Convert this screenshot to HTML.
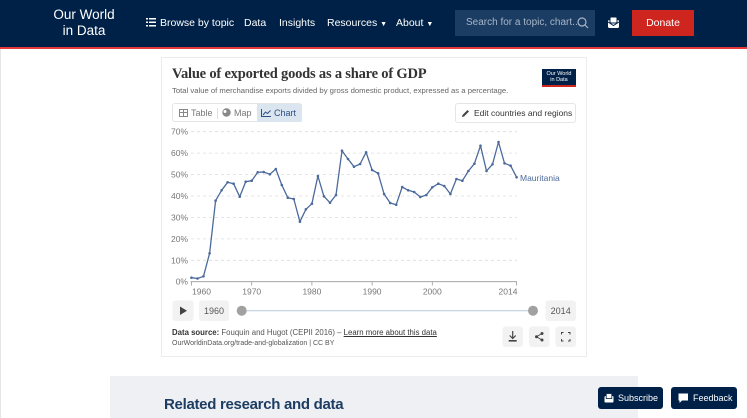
<!DOCTYPE html>
<html><head><meta charset="utf-8"><style>
*{margin:0;padding:0;box-sizing:border-box}
body{width:747px;height:418px;overflow:hidden;background:#fff;font-family:"Liberation Sans",sans-serif;position:relative}
.a{position:absolute}
.hdr{left:0;top:0;width:747px;height:47px;background:#002147}
.red{left:0;top:46.5px;width:747px;height:2.5px;background:#e5393a}
.logo{left:50px;top:7px;width:68px;color:#fff;font-size:13.5px;line-height:16px;text-align:center}
.nav{color:#fff;font-size:10.5px;top:17px;white-space:nowrap}
.search{left:455px;top:10px;width:140px;height:26px;background:#1c3d63;color:#a7b5c8;font-size:10px;line-height:26px;padding-left:11px}
.donate{left:632px;top:10px;width:62px;height:26px;background:#ce261e;color:#fff;font-size:10.5px;line-height:26px;text-align:center}
.card{left:161px;top:57px;width:426px;height:300px;border:1px solid #ececec}
.title{left:172px;top:66px;font-family:"Liberation Serif",serif;font-weight:bold;font-size:14.5px;color:#333;white-space:nowrap;letter-spacing:-0.2px}
.sub{left:172px;top:86px;font-size:7.7px;color:#666;white-space:nowrap}
.olg{left:542px;top:69px;width:34px;height:18px;background:#002147;border-bottom:2px solid #ce261e;color:#fff;font-size:5.5px;line-height:6px;text-align:center;padding-top:2px}
.tabs{left:172px;top:102.5px;width:130px;height:19.5px;border:1px solid #e5e5e5;border-radius:3px;font-size:9px;color:#777}
.tab{position:absolute;top:0;height:18px;line-height:18px}
.edit{left:455px;top:102.5px;width:121px;height:20px;border:1px solid #e5e5e5;border-radius:3px;font-size:8.5px;color:#333;line-height:18px;padding-left:18px;white-space:nowrap}
.src{left:172px;top:328px;font-size:7.8px;color:#555;white-space:nowrap}
.src2{left:172px;top:340px;font-size:7px;color:#555;white-space:nowrap}
.rel{left:110px;top:376px;width:528px;height:42px;background:#eef0f3}
.relt{left:164px;top:396px;font-size:15px;font-weight:bold;color:#1d3d63;white-space:nowrap;letter-spacing:-0.3px}
.nb{background:#002147;color:#fff;font-size:9px;border-radius:3px;line-height:22px;white-space:nowrap}
</style></head><body>
<div class="a" style="left:0;top:0;width:1px;height:418px;background:#e6e6e6"></div>
<div class="a hdr"></div>
<div class="a red"></div>
<div class="a logo">Our World<br>in Data</div>
<div class="a nav" style="left:146px">
<svg width="10" height="9" style="vertical-align:-1px;margin-right:4px"><g fill="#fff"><rect x="0" y="0" width="2" height="1.5"/><rect x="3" y="0" width="7" height="1.5"/><rect x="0" y="3.5" width="2" height="1.5"/><rect x="3" y="3.5" width="7" height="1.5"/><rect x="0" y="7" width="2" height="1.5"/><rect x="3" y="7" width="7" height="1.5"/></g></svg>Browse by topic</div>
<div class="a nav" style="left:244px">Data</div>
<div class="a nav" style="left:279px">Insights</div>
<div class="a nav" style="left:327px">Resources <span style="font-size:7px">▼</span></div>
<div class="a nav" style="left:396px">About <span style="font-size:7px">▼</span></div>
<div class="a search">Search for a topic, chart...
<svg class="a" style="left:122px;top:7px" width="12" height="12"><circle cx="5" cy="5" r="4" fill="none" stroke="#a7b5c8" stroke-width="1.2"/><line x1="8" y1="8" x2="11" y2="11" stroke="#a7b5c8" stroke-width="1.2"/></svg></div>
<svg class="a" style="left:607px;top:16px" width="13" height="13"><rect x="1" y="4" width="11" height="8" rx="1.5" fill="#fff"/><rect x="3" y="1" width="7" height="6" rx="1" fill="#fff" stroke="#002147" stroke-width="1"/><path d="M1 6 L6.5 9.5 L12 6" fill="none" stroke="#002147" stroke-width="1"/></svg>
<div class="a donate">Donate</div>

<div class="a card"></div>
<div class="a title">Value of exported goods as a share of GDP</div>
<div class="a sub">Total value of merchandise exports divided by gross domestic product, expressed as a percentage.</div>
<div class="a olg">Our World<br>in Data</div>
<div class="a tabs">
<div class="tab" style="left:6px"><svg width="9" height="8" style="vertical-align:-1px;margin-right:3px"><rect x="0.5" y="0.5" width="8" height="7" fill="none" stroke="#888"/><line x1="0.5" y1="3.5" x2="8.5" y2="3.5" stroke="#888"/><line x1="4.5" y1="0.5" x2="4.5" y2="7.5" stroke="#888"/></svg>Table</div>
<div class="a" style="left:44px;top:4px;width:1px;height:11px;background:#e0e0e0"></div>
<div class="tab" style="left:49px"><svg width="9" height="9" style="vertical-align:-1px;margin-right:3px"><circle cx="4.5" cy="4.5" r="4.2" fill="#888"/><circle cx="3" cy="3.5" r="1.5" fill="#fff"/></svg>Map</div>
<div class="tab" style="left:84px;width:45px;background:#dbe5f0;padding-left:4px;color:#2d5083;border-radius:0 2px 2px 0"><svg width="10" height="8" style="vertical-align:-1px;margin-right:3px"><path d="M0.5 0 V7.5 H10" fill="none" stroke="#2d5083"/><path d="M2 6 L4.5 3 L6.5 4.5 L9.5 1.5" fill="none" stroke="#2d5083"/></svg>Chart</div>
</div>
<div class="a edit"><svg class="a" style="left:5px;top:5px" width="9" height="9"><path d="M1 8 L1.5 6 L6.5 1 L8 2.5 L3 7.5 Z" fill="#444"/></svg>Edit countries and regions</div>

<svg class="a" style="left:0;top:0" width="747" height="418">
<g stroke="#dcdcdc" stroke-width="0.8" stroke-dasharray="3,3">
<line x1="191" y1="131.7" x2="517" y2="131.7"/>
<line x1="191" y1="153.1" x2="517" y2="153.1"/>
<line x1="191" y1="174.6" x2="517" y2="174.6"/>
<line x1="191" y1="196" x2="517" y2="196"/>
<line x1="191" y1="217.4" x2="517" y2="217.4"/>
<line x1="191" y1="238.9" x2="517" y2="238.9"/>
<line x1="191" y1="260.3" x2="517" y2="260.3"/>
</g>
<line x1="190.5" y1="281.7" x2="517" y2="281.7" stroke="#999" stroke-width="0.8"/>
<g stroke="#999" stroke-width="0.8">
<line x1="191.5" y1="281.7" x2="191.5" y2="285.5"/>
<line x1="251.7" y1="281.7" x2="251.7" y2="285.5"/>
<line x1="311.9" y1="281.7" x2="311.9" y2="285.5"/>
<line x1="372.1" y1="281.7" x2="372.1" y2="285.5"/>
<line x1="432.3" y1="281.7" x2="432.3" y2="285.5"/>
<line x1="516.6" y1="281.7" x2="516.6" y2="285.5"/>
</g>
<g font-family="Liberation Sans, sans-serif" font-size="8.5" fill="#777" text-anchor="end">
<text x="188" y="134.7">70%</text>
<text x="188" y="156.1">60%</text>
<text x="188" y="177.6">50%</text>
<text x="188" y="199">40%</text>
<text x="188" y="220.4">30%</text>
<text x="188" y="241.9">20%</text>
<text x="188" y="263.3">10%</text>
<text x="188" y="284.7">0%</text>
</g>
<g font-family="Liberation Sans, sans-serif" font-size="8.5" fill="#777" text-anchor="middle">
<text x="201.5" y="294.5">1960</text>
<text x="251.7" y="294.5">1970</text>
<text x="311.9" y="294.5">1980</text>
<text x="372.1" y="294.5">1990</text>
<text x="432.3" y="294.5">2000</text>
<text x="508" y="294.5">2014</text>
</g>
<polyline fill="none" stroke="#4c6a9c" stroke-width="1.3" stroke-linejoin="round" points="191.5,277.7 197.5,278.5 203.5,276.3 209.6,253.3 215.6,200.7 221.6,190.3 227.6,182.3 233.6,183.7 239.7,196.7 245.7,181.7 251.7,180.7 257.7,172.3 263.7,172 269.8,174.3 275.8,169 281.8,185 287.8,197.7 293.8,199 299.9,221.7 305.9,209.3 311.9,203.7 317.9,176 323.9,196.3 330,202.7 336,195 342,150.7 348,159 354,166.7 360.1,164 366.1,152.3 372.1,170 378.1,173.3 384.1,194 390.2,203 396.2,204.7 402.2,187 408.2,190.3 414.2,192 420.3,197 426.3,195 432.3,187.3 438.3,183.7 444.3,186 450.4,194 456.4,179 462.4,180.7 468.4,171 474.4,163.7 480.5,145.7 486.5,171 492.5,164.3 498.5,142 504.5,163.3 510.6,165.7 516.6,177.3"/>
<g fill="#4c6a9c">
<circle cx="191.5" cy="277.7" r="1.3"/><circle cx="197.5" cy="278.5" r="1.3"/><circle cx="203.5" cy="276.3" r="1.3"/><circle cx="209.6" cy="253.3" r="1.3"/><circle cx="215.6" cy="200.7" r="1.3"/><circle cx="221.6" cy="190.3" r="1.3"/><circle cx="227.6" cy="182.3" r="1.3"/><circle cx="233.6" cy="183.7" r="1.3"/><circle cx="239.7" cy="196.7" r="1.3"/><circle cx="245.7" cy="181.7" r="1.3"/><circle cx="251.7" cy="180.7" r="1.3"/><circle cx="257.7" cy="172.3" r="1.3"/><circle cx="263.7" cy="172" r="1.3"/><circle cx="269.8" cy="174.3" r="1.3"/><circle cx="275.8" cy="169" r="1.3"/><circle cx="281.8" cy="185" r="1.3"/><circle cx="287.8" cy="197.7" r="1.3"/><circle cx="293.8" cy="199" r="1.3"/><circle cx="299.9" cy="221.7" r="1.3"/><circle cx="305.9" cy="209.3" r="1.3"/><circle cx="311.9" cy="203.7" r="1.3"/><circle cx="317.9" cy="176" r="1.3"/><circle cx="323.9" cy="196.3" r="1.3"/><circle cx="330" cy="202.7" r="1.3"/><circle cx="336" cy="195" r="1.3"/><circle cx="342" cy="150.7" r="1.3"/><circle cx="348" cy="159" r="1.3"/><circle cx="354" cy="166.7" r="1.3"/><circle cx="360.1" cy="164" r="1.3"/><circle cx="366.1" cy="152.3" r="1.3"/><circle cx="372.1" cy="170" r="1.3"/><circle cx="378.1" cy="173.3" r="1.3"/><circle cx="384.1" cy="194" r="1.3"/><circle cx="390.2" cy="203" r="1.3"/><circle cx="396.2" cy="204.7" r="1.3"/><circle cx="402.2" cy="187" r="1.3"/><circle cx="408.2" cy="190.3" r="1.3"/><circle cx="414.2" cy="192" r="1.3"/><circle cx="420.3" cy="197" r="1.3"/><circle cx="426.3" cy="195" r="1.3"/><circle cx="432.3" cy="187.3" r="1.3"/><circle cx="438.3" cy="183.7" r="1.3"/><circle cx="444.3" cy="186" r="1.3"/><circle cx="450.4" cy="194" r="1.3"/><circle cx="456.4" cy="179" r="1.3"/><circle cx="462.4" cy="180.7" r="1.3"/><circle cx="468.4" cy="171" r="1.3"/><circle cx="474.4" cy="163.7" r="1.3"/><circle cx="480.5" cy="145.7" r="1.3"/><circle cx="486.5" cy="171" r="1.3"/><circle cx="492.5" cy="164.3" r="1.3"/><circle cx="498.5" cy="142" r="1.3"/><circle cx="504.5" cy="163.3" r="1.3"/><circle cx="510.6" cy="165.7" r="1.3"/><circle cx="516.6" cy="177.3" r="1.3"/>
</g>
<text x="520" y="181" font-family="Liberation Sans, sans-serif" font-size="8.5" fill="#4c6a9c">Mauritania</text>

<rect x="172.5" y="300.5" width="21" height="20.5" rx="3" fill="#f2f2f2"/>
<path d="M180 306.5 L187 310.7 L180 315 Z" fill="#444"/>
<rect x="199" y="300.5" width="30" height="20.5" rx="3" fill="#f2f2f2"/>
<text x="214" y="313.8" font-family="Liberation Sans, sans-serif" font-size="9" fill="#555" text-anchor="middle">1960</text>
<line x1="241.7" y1="310.7" x2="533" y2="310.7" stroke="#b9c8da" stroke-width="1"/>
<circle cx="241.7" cy="310.7" r="5" fill="#a1a1a1"/>
<circle cx="533" cy="310.7" r="5" fill="#a1a1a1"/>
<rect x="545.5" y="300.5" width="30.5" height="20.5" rx="3" fill="#f2f2f2"/>
<text x="560.7" y="313.8" font-family="Liberation Sans, sans-serif" font-size="9" fill="#555" text-anchor="middle">2014</text>

<rect x="502.5" y="326.5" width="20.5" height="20.5" rx="3" fill="#f2f2f2"/>
<path d="M512.7 331 V338 M509.7 335.5 L512.7 338.5 L515.7 335.5" fill="none" stroke="#444" stroke-width="1.2"/>
<rect x="508.7" y="340" width="8" height="1.6" fill="#444"/>
<rect x="529" y="326.5" width="20.5" height="20.5" rx="3" fill="#f2f2f2"/>
<g fill="#444"><circle cx="542" cy="333.5" r="1.5"/><circle cx="536.5" cy="336.7" r="1.5"/><circle cx="542" cy="340" r="1.5"/></g>
<path d="M542 333.5 L536.5 336.7 L542 340" fill="none" stroke="#444" stroke-width="0.9"/>
<rect x="555.5" y="326.5" width="20.5" height="20.5" rx="3" fill="#f2f2f2"/>
<path d="M561.5 334.5 V332.5 H563.5 M568 332.5 H570 V334.5 M570 339 V341 H568 M563.5 341 H561.5 V339" fill="none" stroke="#444" stroke-width="1"/>
</svg>

<div class="a src"><b style="color:#333">Data source:</b> Fouquin and Hugot (CEPII 2016) – <span style="text-decoration:underline;color:#333">Learn more about this data</span></div>
<div class="a src2">OurWorldinData.org/trade-and-globalization | CC BY</div>

<div class="a rel"></div>
<div class="a relt">Related research and data</div>
<div class="a nb" style="left:598px;top:387px;width:65px;height:22px;padding-left:20px">
<svg class="a" style="left:6px;top:6px" width="10" height="10"><rect x="0.5" y="3" width="9" height="6.5" rx="1" fill="#fff"/><rect x="2.2" y="0.5" width="5.6" height="5" fill="#fff" stroke="#002147" stroke-width="0.8"/></svg>Subscribe</div>
<div class="a nb" style="left:671px;top:387px;width:66px;height:22px;padding-left:22px">
<svg class="a" style="left:7px;top:6px" width="11" height="11"><path d="M0.5 0.5 H10 V7.5 H4 L1.5 10 V7.5 H0.5 Z" fill="#fff"/></svg>Feedback</div>
</body></html>
